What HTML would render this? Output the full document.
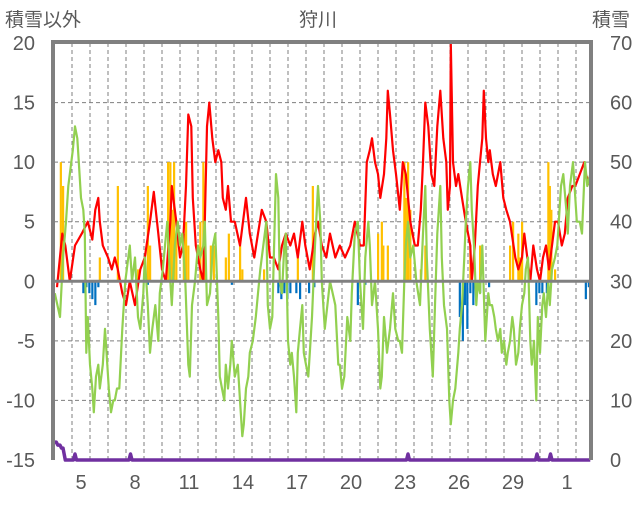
<!DOCTYPE html>
<html><head><meta charset="utf-8">
<style>
body{margin:0;background:#fff;}
svg text{font-family:"Liberation Sans","Noto Sans CJK JP",sans-serif;fill:#595959;}
</style></head>
<body>
<svg id="chart" width="636" height="501" xmlns="http://www.w3.org/2000/svg">
<text x="5" y="26" font-size="19">積雪以外</text>
<text x="318" y="26" font-size="19" text-anchor="middle">狩川</text>
<text x="630" y="26" font-size="19" text-anchor="end">積雪</text>
<g id="grid"></g>
<g id="bars"></g>
<g id="lines"></g>
<g id="axes"></g>
</svg>
<script>
const dayLabels = ["5","8","11","14","17","20","23","26","29","1"];
const dayLabelIndex = [1,4,7,10,13,16,19,22,25,28];
const leftTicks = [20,15,10,5,0,-5,-10,-15];
const rightTicks = [70,60,50,40,30,20,10,0];
const redHours = [4,11,15,21,28,37,45,51,55,59,61,65,72,77,81,85,91,96,101,108,115,121,128,133,139,144,149,155,157,163,168,172,176,179,183,185,189,195,199,201,204,207,211,215,219,223,225,229,232,236,241,248,252,256,261,267,272,277,283,288,293,299,304,309,315,320,325,331,335,341,348,352,357,363,368,375,381,388,395,401,408,413,417,421,424,428,432,435,440,443,445,448,452,456,461,465,469,475,481,485,489,492,495,499,503,507,511,515,519,523,525,528,529,532,536,539,544,549,555,557,561,565,568,571,573,576,579,581,585,589,595,599,603,608,615,619,624,627,631,635,639,644,648,652,656,660,664,668,672,677,681,685,691,695,701,707,709,715];
const redValues = [-0.5,4,3,0,3,4,5,3.5,6,7,5,3,2,1,2,1,-1,-2,0,-2,1,2,5,7.5,4,1,0,5,8,5,2,3,8,14,13,7,3,1,0,5,13,15,12,10,11,10,7,6,8,5,5,3,5,7,4,2,4,6,5,2,2,1,3,4,3,4,2,5,3,1,4,5,3,2,4,2,3,2,3,5,3,3,10,11,12,10,9,7,9,12,16,14,11,9,6,10,9,5,3,3,6,10,15,13,9,8,13,16,12,10,6,8,20,10,8,9,7,5,3,0,3,8,10,12,16,12,10,11,9,8,10,7,6,5,2,1,2,4,2,0,3,1,0,2,3,1,3,5,5,3,4,7,8,8,9,10,9,8];
const greenHours = [1,8,12,16,19,21,25,28,31,33,36,39,41,43,45,48,51,53,56,59,61,65,68,71,73,76,79,81,84,87,91,95,99,101,104,108,112,115,119,121,125,128,131,135,139,141,145,148,151,155,157,161,165,168,171,175,179,181,184,188,192,195,199,201,204,208,212,215,219,221,224,227,229,232,235,237,241,245,248,251,253,256,259,261,265,269,272,275,279,283,285,288,291,293,296,299,301,304,307,309,312,315,317,320,323,325,328,331,333,336,339,341,344,348,352,355,357,361,368,375,379,381,384,387,391,395,397,401,405,408,412,415,419,421,424,428,432,435,437,440,444,448,452,455,459,461,464,467,469,472,475,479,483,488,492,495,497,501,505,508,511,515,517,520,524,527,529,532,535,539,541,544,547,549,552,555,557,560,563,565,568,571,575,579,581,584,587,589,592,595,597,600,603,605,608,611,613,616,619,621,624,627,629,632,635,637,640,643,645,648,651,653,656,659,661,664,668,671,673,676,679,683,685,688,692,695,697,701,704,708,711,715];
const greenValues = [-1,-3,2,5,8,9,11,13,12,10,7,6,4,-6,-3,-7,-9,-11,-8,-7,-9,-7,-4,-7,-9,-11,-10,-10,-9,-9,-4,0,2,3,0,2,-3,-4,-1,2,-2,-6,-4,-2,-5,-1,1,3,5,0,-2,3,5,3,4,0,-7,-8,-2,0,3,2,3,5,-2,-1,3,4,-3,-8,-9,-10,-7,-9,-7,-5,-8,-7,-10,-13,-12,-9,-8,-6,-5,-3,-1,1,3,5,-2,-4,-3,2,9,7,0,-1,3,4,-5,-7,-6,-8,-11,-6,-4,-2,-6,-7,-8,-6,-3,3,8,5,0,-4,0,-2,-7,-7,-9,-8,-3,-5,-1,4,5,0,-4,2,5,3,-2,0,-4,-9,-8,-3,-6,-4,-1,-4,-5,-5,-6,0,3,5,2,3,0,-2,4,8,2,-4,-8,-2,4,8,2,-2,-4,-10,-12,-10,-9,-6,-4,-2,2,5,8,10,6,3,-2,0,-1,3,-5,-1,-2,-2,-3,-4,-5,-4,-6,-5,-7,-6,-5,-3,-4,-7,-6,-4,-2,-1,1,2,-5,-7,-5,-10,-3,-6,-2,-1,-3,0,-2,1,2,3,5,8,9,6,4,8,10,7,5,5,4,10,8,9];
const yellowHours = [9,12,61,85,112,125,128,152,155,157,160,163,173,176,179,195,199,201,209,213,229,233,248,251,280,325,345,432,437,439,445,467,469,472,475,489,495,555,568,608,612,619,621,624,659,661,663,668];
const yellowValues = [10,8,2,8,1,8,3,10,10,6,10,4,4,5,3,5,10,3,3,3,2,4,3,1,1,2,8,4,5,3,3,10,7,10,6,1,3,3,3,3,5,4,2,5,10,8,6,1];
const blueHours = [39,43,47,51,55,59,125,237,299,303,307,311,315,323,328,340,347,405,415,541,545,548,551,555,559,568,580,643,647,651,657,709,713];
const blueValues = [-1,-0.5,-1,-1.5,-2,-0.5,-0.3,-0.3,-1,-1.5,-1,-1.5,-1,-1,-1.5,-1,-0.5,-2,-0.3,-3,-5,-2,-4,-1,-2,-1,-0.5,-2,-1,-1,-1,-1.5,-0.5];
const snowHours = [0,3,5,8,10,12,15,17,26,28,30,100,102,104,470,472,474,642,644,646,660,662,664,715];
const snowValues = [3,3,2.5,2.5,2,2,0,0,0,1,0,0,1,0,0,1,0,0,1,0,0,1,0,0];

const NS='http://www.w3.org/2000/svg';
const L=54,R=590,T=43,B=460;
const xh=h=>L+h*0.75;
const yl=v=>B-(v+15)*(B-T)/35;
const yr=v=>B-v*(B-T)/70;
function mk(tag,attrs,parent){const e=document.createElementNS(NS,tag);for(const k in attrs)e.setAttribute(k,attrs[k]);document.getElementById(parent).appendChild(e);return e;}
// grid
for(const v of leftTicks){ if(v===20||v===-15||v===0)continue;
 const g=mk('line',{x1:L,x2:R,y1:yl(v),y2:yl(v),stroke:'#7f7f7f','stroke-width':1,'stroke-dasharray':'4,3'},'grid');
 
 }
for(let d=1;d<30;d++){const x=xh(d*24);
 const g=mk('line',{x1:x,x2:x,y1:T,y2:B,stroke:'#7f7f7f','stroke-width':1,'stroke-dasharray':'4,3'},'grid');
 
 }
// bars
yellowHours.forEach((h,i)=>{const v=yellowValues[i];
 const b=mk('rect',{x:xh(h)-1,y:yl(v),width:2.2,height:yl(0)-yl(v),fill:'#ffc000'},'bars');
 
 });
blueHours.forEach((h,i)=>{const v=blueValues[i];
 const b=mk('rect',{x:xh(h)-1,y:yl(0),width:2.2,height:yl(v)-yl(0),fill:'#0070c0'},'bars');
 
 });
// lines
function line(hs,vs,ys,col,w,name){const d=hs.map((h,i)=>(i?'L':'M')+xh(h).toFixed(1)+','+ys(vs[i]).toFixed(1)).join('');
 const p=mk('path',{d:d,fill:'none',stroke:col,'stroke-width':w,'stroke-linejoin':'round'},'lines');
 
 }
line(redHours,redValues,yl,'#ff0000',2.2,'red-line');
line(greenHours,greenValues,yl,'#92d050',2.2,'green-line');
// axes
const z=mk('line',{x1:L,x2:R,y1:yl(0),y2:yl(0),stroke:'#808080','stroke-width':3},'axes');


const fr=mk('path',{d:`M${L-1},${B} L${L-1},${T-1} L${R+1},${T-1} L${R+1},${B}`,fill:'none',stroke:'#808080','stroke-width':4},'axes');


line(snowHours,snowValues,yr,'#7030a0',3.5,'snow-line');
leftTicks.forEach(v=>{const t=mk('text',{x:35,y:yl(v)+7,'font-size':20,'text-anchor':'end'},'axes');t.textContent=v;
 
 });
rightTicks.forEach(v=>{const t=mk('text',{x:610,y:yr(v)+7,'font-size':20,'text-anchor':'start'},'axes');t.textContent=v;
 
 });
dayLabels.forEach((s,i)=>{const t=mk('text',{x:xh(dayLabelIndex[i]*24+12),y:489,'font-size':20,'text-anchor':'middle'},'axes');t.textContent=s;
 
 });
</script>
</body></html>
